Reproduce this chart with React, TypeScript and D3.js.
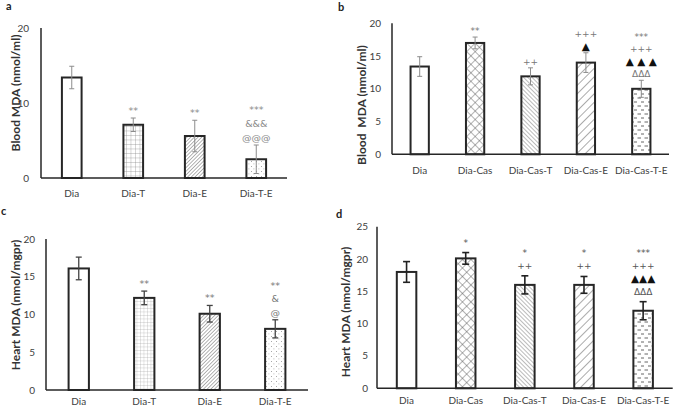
import React from "react";
import * as d3 from "d3";

// ---------- DATA ----------
const catsA = ["Dia", "Dia-T", "Dia-E", "Dia-T-E"];
const valsA = [13.4, 7.1, 5.6, 2.5];
const errA = [1.5, 0.9, 2.1, 1.9];
const annA = [[], ["**"], ["**"], ["***", "&&&", "@@@"]];
const ticksA = [0, 10, 20];

const catsB = ["Dia", "Dia-Cas", "Dia-Cas-T", "Dia-Cas-E", "Dia-Cas-T-E"];
const valsB = [13.4, 17.0, 11.9, 14.0, 10.0];
const errB = [1.5, 0.9, 1.3, 1.5, 1.3];
const annB = [[], ["**"], ["++"], ["+++", "▲"], ["***", "+++", "▲ ▲ ▲", "ΔΔΔ"]];
const ticksB = [0, 5, 10, 15, 20];

const catsC = ["Dia", "Dia-T", "Dia-E", "Dia-T-E"];
const valsC = [16.1, 12.2, 10.1, 8.1];
const errC = [1.5, 0.9, 1.1, 1.2];
const annC = [[], ["**"], ["**"], ["**", "&", "@"]];
const ticksC = [0, 5, 10, 15, 20];

const catsD = ["Dia", "Dia-Cas", "Dia-Cas-T", "Dia-Cas-E", "Dia-Cas-T-E"];
const valsD = [18.0, 20.1, 16.0, 16.0, 12.0];
const errD = [1.6, 0.9, 1.4, 1.3, 1.4];
const annD = [[], ["*"], ["*", "++"], ["*", "++"], ["***", "+++", "▲▲▲", "ΔΔΔ"]];
const ticksD = [0, 5, 10, 15, 20, 25];

const FONT = "Lato, 'Liberation Sans', sans-serif";

type PanelCfg = {
  letter: string;
  letterX: number;
  letterY: number;
  cats: string[];
  vals: number[];
  errs: number[];
  anns: string[][];
  ticks: number[];
  title: string;
  x0: number;
  x1: number;
  yTop: number;
  yBot: number;
  tickRight: number;
  titleX: number;
  titleY: number;
  labelY: number;
  pad: number;
  errColor: string;
  errWidth: number;
  capW: number;
  annColor: string;
  annSize: number;
  gap: number;
  lineH: number;
  fills: string[];
};

const panels: PanelCfg[] = [
  {
    letter: "a", letterX: 6, letterY: 10,
    cats: catsA, vals: valsA, errs: errA, anns: annA, ticks: ticksA,
    title: "Blood MDA (nmol/ml)",
    x0: 41, x1: 287, yTop: 28, yBot: 178, tickRight: 29,
    titleX: 20, titleY: 93, labelY: 197, pad: 0.68,
    errColor: "#8c8c8c", errWidth: 1, capW: 5,
    annColor: "#8a8a8a", annSize: 9.5, gap: 4, lineH: 14,
    fills: ["#fff", "url(#pGrid)", "url(#pDiagDense)", "url(#pDots)"],
  },
  {
    letter: "b", letterX: 338, letterY: 11,
    cats: catsB, vals: valsB, errs: errB, anns: annB, ticks: ticksB,
    title: "Blood  MDA (nmol/ml)",
    x0: 392, x1: 669, yTop: 23.3, yBot: 154.3, tickRight: 381,
    titleX: 366, titleY: 105, labelY: 174, pad: 0.67,
    errColor: "#8c8c8c", errWidth: 1, capW: 5,
    annColor: "#777", annSize: 9, gap: 3, lineH: 12.5,
    fills: ["#fff", "url(#pCross)", "url(#pBackDense)", "url(#pDiagWide)", "url(#pDash)"],
  },
  {
    letter: "c", letterX: 1, letterY: 215,
    cats: catsC, vals: valsC, errs: errC, anns: annC, ticks: ticksC,
    title: "Heart MDA (nmol/mgpr)",
    x0: 46, x1: 308, yTop: 239, yBot: 390, tickRight: 35,
    titleX: 20, titleY: 305, labelY: 404.5, pad: 0.69,
    errColor: "#444", errWidth: 1.3, capW: 6,
    annColor: "#777", annSize: 9.5, gap: 4, lineH: 13.5,
    fills: ["#fff", "url(#pGrid2)", "url(#pDiagDense)", "url(#pDots)"],
  },
  {
    letter: "d", letterX: 336, letterY: 218,
    cats: catsD, vals: valsD, errs: errD, anns: annD, ticks: ticksD,
    title: "Heart MDA (nmol/mgpr)",
    x0: 377, x1: 672.7, yTop: 226.7, yBot: 388.3, tickRight: 368,
    titleX: 350, titleY: 312, labelY: 404, pad: 0.67,
    errColor: "#222", errWidth: 1.6, capW: 7,
    annColor: "#555", annSize: 9, gap: 7, lineH: 13,
    fills: ["#fff", "url(#pCross)", "url(#pBackDense)", "url(#pDiagWide)", "url(#pDash)"],
  },
];

function Panel({ p }: { p: PanelCfg }) {
  const yMax = p.ticks[p.ticks.length - 1];
  const y = d3.scaleLinear().domain([0, yMax]).range([p.yBot, p.yTop]);
  const x = d3
    .scaleBand<string>()
    .domain(p.cats)
    .range([p.x0, p.x1])
    .paddingInner(p.pad)
    .paddingOuter(p.pad / 2);
  const bw = x.bandwidth();
  return (
    <g>
      <text x={p.letterX} y={p.letterY} fontFamily={FONT} fontWeight="bold" fontSize={11} fill="#222">
        {p.letter}
      </text>
      {p.ticks.map((t) => (
        <text
          key={t}
          x={p.tickRight}
          y={y(t)}
          dy="0.35em"
          textAnchor="end"
          fontFamily={FONT}
          fontSize={10}
          fill="#404040"
        >
          {t}
        </text>
      ))}
      <text
        transform={`translate(${p.titleX},${p.titleY}) rotate(-90)`}
        textAnchor="middle"
        fontFamily={FONT}
        fontWeight="bold"
        fontSize={12}
        fill="#333"
        style={{ whiteSpace: "pre" }}
      >
        {p.title}
      </text>
      {p.cats.map((c, i) => {
        const bx = x(c)!;
        const top = y(p.vals[i]);
        return (
          <rect
            key={c}
            x={bx}
            y={top}
            width={bw}
            height={p.yBot - top}
            fill={p.fills[i]}
            stroke="#262626"
            strokeWidth={2}
          />
        );
      })}
      {p.cats.map((c, i) => {
        const cx = x(c)! + bw / 2;
        const hi = y(p.vals[i] + p.errs[i]);
        const lo = y(p.vals[i] - p.errs[i]);
        return (
          <g key={c} stroke={p.errColor} strokeWidth={p.errWidth}>
            <line x1={cx} x2={cx} y1={hi} y2={lo} />
            <line x1={cx - p.capW / 2} x2={cx + p.capW / 2} y1={hi} y2={hi} />
            <line x1={cx - p.capW / 2} x2={cx + p.capW / 2} y1={lo} y2={lo} />
          </g>
        );
      })}
      {p.cats.map((c, i) => {
        const cx = x(c)! + bw / 2;
        const hi = y(p.vals[i] + p.errs[i]);
        const lines = p.anns[i];
        const n = lines.length;
        return lines.map((s, j) => {
          const solid = s.includes("▲");
          return (
            <text
              key={c + j}
              x={cx}
              y={hi - p.gap - (n - 1 - j) * p.lineH}
              textAnchor="middle"
              fontFamily="'DejaVu Sans', sans-serif"
              fontSize={solid ? p.annSize + 1.5 : p.annSize}
              fill={solid ? "#111" : p.annColor}
              style={{ whiteSpace: "pre" }}
            >
              {s}
            </text>
          );
        });
      })}
      <line x1={p.x0} x2={p.x0} y1={p.yTop} y2={p.yBot} stroke="#262626" strokeWidth={1.5} />
      <line x1={p.x0} x2={p.x1} y1={p.yBot} y2={p.yBot} stroke="#262626" strokeWidth={1.5} />
      {p.cats.map((c) => (
        <text
          key={c}
          x={x(c)! + bw / 2}
          y={p.labelY}
          textAnchor="middle"
          fontFamily={FONT}
          fontSize={10}
          fill="#404040"
        >
          {c}
        </text>
      ))}
    </g>
  );
}

export default function App() {
  return (
    <svg
      width={676}
      height={407}
      style={{ position: "absolute", left: 0, top: 0, background: "#fff", display: "block" }}
    >
      <defs>
        <pattern id="pGrid" width={4.5} height={4.5} patternUnits="userSpaceOnUse">
          <rect width={4.5} height={4.5} fill="#fff" />
          <path d="M0 0 H4.5 M0 0 V4.5" stroke="#8a8a8a" strokeWidth={0.7} />
        </pattern>
        <pattern id="pGrid2" width={3.5} height={3.5} patternUnits="userSpaceOnUse">
          <rect width={3.5} height={3.5} fill="#fff" />
          <path d="M0 0 H3.5 M0 0 V3.5" stroke="#9a9a9a" strokeWidth={0.5} />
        </pattern>
        <pattern id="pDiagDense" width={2.6} height={2.6} patternUnits="userSpaceOnUse" patternTransform="rotate(45)">
          <rect width={2.6} height={2.6} fill="#fff" />
          <line x1={0} y1={0} x2={0} y2={2.6} stroke="#555" strokeWidth={0.9} />
        </pattern>
        <pattern id="pDots" width={5} height={5} patternUnits="userSpaceOnUse">
          <rect width={5} height={5} fill="#fff" />
          <rect x={1} y={1} width={0.8} height={0.8} fill="#777" />
          <rect x={3.5} y={3.5} width={0.8} height={0.8} fill="#999" />
        </pattern>
        <pattern id="pCross" width={6} height={6} patternUnits="userSpaceOnUse" patternTransform="rotate(45)">
          <rect width={6} height={6} fill="#fff" />
          <path d="M0 0 H6 M0 0 V6" stroke="#555" strokeWidth={0.9} />
        </pattern>
        <pattern id="pBackDense" width={3} height={3} patternUnits="userSpaceOnUse" patternTransform="rotate(-45)">
          <rect width={3} height={3} fill="#fff" />
          <line x1={0} y1={0} x2={0} y2={3} stroke="#555" strokeWidth={0.8} />
        </pattern>
        <pattern id="pDiagWide" width={6} height={6} patternUnits="userSpaceOnUse" patternTransform="rotate(45)">
          <rect width={6} height={6} fill="#fff" />
          <line x1={0} y1={0} x2={0} y2={6} stroke="#444" strokeWidth={0.9} />
        </pattern>
        <pattern id="pDash" width={7} height={8} patternUnits="userSpaceOnUse">
          <rect width={7} height={8} fill="#fff" />
          <line x1={0.5} y1={2} x2={4} y2={2} stroke="#555" strokeWidth={0.9} />
          <line x1={4} y1={6} x2={7.5} y2={6} stroke="#555" strokeWidth={0.9} />
        </pattern>
      </defs>
      {panels.map((p) => (
        <Panel key={p.letter} p={p} />
      ))}
    </svg>
  );
}
